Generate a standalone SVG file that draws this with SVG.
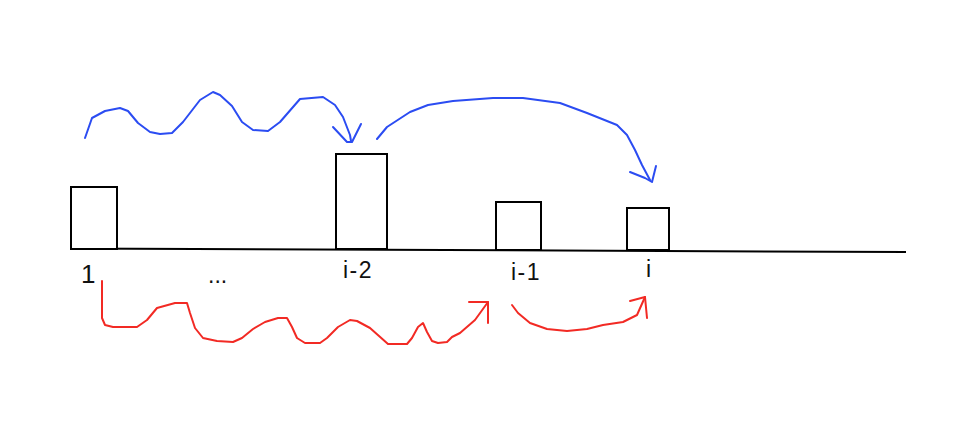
<svg xmlns="http://www.w3.org/2000/svg" width="966" height="448" viewBox="0 0 966 448">
<style>
.bar{fill:#fff;stroke:#000;stroke-width:2}
.lbl{font-family:"Liberation Sans",Arial,sans-serif;font-size:23px;fill:#111}
.sp{letter-spacing:1.5px}
.blue{fill:none;stroke:#2b4cf2;stroke-width:2;stroke-linejoin:round;stroke-linecap:round}
.red{fill:none;stroke:#f22a24;stroke-width:2;stroke-linejoin:round;stroke-linecap:round}
</style>
<rect width="966" height="448" fill="#fff"/>
<line x1="71" y1="248.5" x2="906" y2="252" stroke="#000" stroke-width="2"/>
<g id="bar-1"><rect class="bar" x="71" y="187" width="46" height="62"/><text class="lbl" x="81" y="283" style="font-size:26px">1</text></g>
<g id="dots"><text class="lbl" x="208" y="283">...</text></g>
<g id="bar-i-2"><rect class="bar" x="336" y="154" width="51" height="95"/><text class="lbl sp" x="343" y="278">i-2</text></g>
<g id="bar-i-1"><rect class="bar" x="496" y="202" width="45" height="48"/><text class="lbl sp" x="511" y="280">i-1</text></g>
<g id="bar-i"><rect class="bar" x="627" y="208" width="42" height="42"/><text class="lbl" x="646" y="277">i</text></g>
<g id="connectors">
<polyline class="blue" points="85,138 92,118 105,111 120,108 128,111 138,123 150,132 160,134 172,133 183,122 200,100 213,92 220,95 232,106 242,122 253,130 268,131 280,122 300,99 323,97 335,105 343,117 350,135 351,141"/>
<polyline class="blue" points="333,127 347,142 352,142 361,124"/>
<polyline class="blue" points="377,139 387,127 410,112 428,105 453,101 493,98 523,98 560,103 587,113 617,125 627,135 635,150 642,165 650,180"/>
<polyline class="blue" points="630,172 645,178 652,182 656,166"/>
<polyline class="red" points="102,281 102,318 105,325 113,327 137,327 147,320 157,308 175,303 187,303 190,313 195,328 203,338 217,341 233,342 242,338 253,329 265,322 278,318 287,318 292,327 297,338 305,343 320,343 327,338 338,327 350,320 357,321 370,328 388,344 407,344 412,338 418,327 423,323 427,332 432,341 438,343 447,342 452,337 460,333 475,320 488,302"/>
<polyline class="red" points="469,302 488,302 488,323"/>
<polyline class="red" points="512,305 518,313 530,323 547,329 567,331 587,329 603,325 623,322 637,315 645,297"/>
<polyline class="red" points="630,301 645,297 647,318"/>
</g>
</svg>
